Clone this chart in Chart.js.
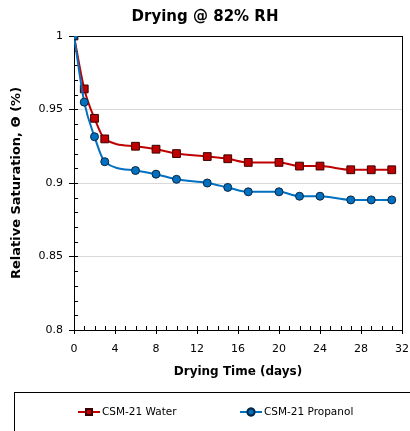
<!DOCTYPE html>
<html>
<head>
<meta charset="utf-8">
<script src="https://cdn.jsdelivr.net/npm/chart.js@4.4.1/dist/chart.umd.min.js"></script>
<style>
  body { margin: 0; background: #fff; }
</style>
</head>
<body>
<canvas id="dryingChart" width="410" height="431"></canvas>
<script>
// values
const days = [0, 1, 2, 3, 6, 8, 10, 13, 15, 17, 20, 22, 24, 27, 29, 31];
const waterSat = [1.0, 0.964, 0.944, 0.930, 0.925, 0.923, 0.920, 0.918, 0.9165, 0.914, 0.914, 0.9115, 0.9115, 0.909, 0.909, 0.909];
const propanolSat = [1.0, 0.955, 0.9315, 0.9145, 0.9085, 0.906, 0.9025, 0.900, 0.897, 0.894, 0.894, 0.891, 0.891, 0.8885, 0.8885, 0.8885];
const seriesNames = ['CSM-21 Water', 'CSM-21 Propanol'];

Chart.defaults.font.family = 'DejaVu Sans';
Chart.defaults.color = '#000';

const toPoints = (xs, ys) => xs.map((x, i) => ({ x: x, y: ys[i] }));

// frame + excel style tick marks (major crosses axis, minor inside)
const frameTicks = {
    id: 'frameTicks',
    beforeDatasetsDraw(chart) {
        const { ctx, chartArea: a, scales: { x, y } } = chart;
        ctx.save();
        ctx.strokeStyle = '#000';
        ctx.lineWidth = 1;
        ctx.beginPath();
        for (let d = 0; d <= 32; d++) {
            const px = Math.round(x.getPixelForValue(d)) + 0.5;
            const major = d % 4 === 0;
            ctx.moveTo(px, a.bottom - 4);
            ctx.lineTo(px, major ? a.bottom + 4 : a.bottom);
        }
        for (let k = 0; k <= 20; k++) {
            const py = Math.round(y.getPixelForValue(0.8 + k * 0.01)) + 0.5;
            const major = k % 5 === 0;
            ctx.moveTo(major ? a.left - 5 : a.left, py);
            ctx.lineTo(a.left + 4, py);
        }
        ctx.stroke();
        ctx.strokeRect(Math.round(a.left) + 0.5, Math.round(a.top) + 0.5,
            Math.round(a.right - a.left), Math.round(a.bottom - a.top));
        ctx.restore();
    }
};

// boxed legend below the axis, line + marker swatches
const boxLegend = {
    id: 'boxLegend',
    afterDraw(chart) {
        const { ctx } = chart;
        const slots = [78, 240];
        const ly = 412;
        ctx.save();
        ctx.strokeStyle = '#000';
        ctx.lineWidth = 1;
        ctx.strokeRect(14.5, 392.5, 420, 60);
        ctx.font = '10.5px "DejaVu Sans"';
        ctx.textBaseline = 'middle';
        chart.data.datasets.forEach((ds, i) => {
            const x0 = slots[i];
            ctx.strokeStyle = ds.borderColor;
            ctx.lineWidth = 2;
            ctx.beginPath();
            ctx.moveTo(x0, ly);
            ctx.lineTo(x0 + 22, ly);
            ctx.stroke();
            Chart.helpers.drawPoint(ctx, {
                pointStyle: ds.pointStyle,
                radius: ds.pointStyle === 'rect' ? 4.2 : 3.5,
                borderWidth: 1
            }, x0 + 11, ly);
            ctx.fillStyle = ds.pointBackgroundColor;
            ctx.strokeStyle = ds.pointBorderColor;
            ctx.fill();
            ctx.stroke();
            ctx.fillStyle = '#000';
            ctx.fillText(ds.label, x0 + 24, ly);
        });
        ctx.restore();
    }
};

new Chart(document.getElementById('dryingChart'), {
    type: 'line',
    data: {
        datasets: [{
            label: seriesNames[0],
            data: toPoints(days, waterSat),
            borderColor: '#c00000',
            borderWidth: 2,
            pointStyle: 'rect',
            pointRadius: 5.5,
            pointBackgroundColor: '#c00000',
            pointBorderColor: '#3a0000',
            pointBorderWidth: 1,
            cubicInterpolationMode: 'monotone',
            order: 2
        }, {
            label: seriesNames[1],
            data: toPoints(days, propanolSat),
            borderColor: '#0070c0',
            borderWidth: 2,
            pointStyle: 'circle',
            pointRadius: 4,
            pointBackgroundColor: '#0070c0',
            pointBorderColor: '#0a2540',
            pointBorderWidth: 1,
            cubicInterpolationMode: 'monotone',
            order: 1
        }]
    },
    options: {
        responsive: false,
        animation: false,
        layout: { padding: { left: 0, right: 0, top: 0, bottom: 46 } },
        plugins: {
            legend: { display: false },
            tooltip: { enabled: false },
            title: {
                display: true,
                text: 'Drying @ 82% RH',
                font: { size: 15, weight: 'bold' },
                padding: { top: 8, bottom: 10 }
            }
        },
        scales: {
            x: {
                type: 'linear',
                min: 0,
                max: 32,
                afterFit: s => { s.height = 55; s.paddingRight = 8; s.paddingLeft = 0; },
                grid: { display: false, drawTicks: false },
                border: { display: false },
                ticks: { stepSize: 4, padding: 13, font: { size: 11 } },
                title: {
                    display: true,
                    text: 'Drying Time (days)',
                    font: { size: 12, weight: 'bold' },
                    padding: { top: 0, bottom: 6 }
                }
            },
            y: {
                min: 0.8,
                max: 1,
                afterFit: s => { s.width = 74; },
                grid: {
                    drawTicks: false,
                    color: c => (c.tick && (c.tick.value <= 0.8001 || c.tick.value >= 0.9999)) ? 'rgba(0,0,0,0)' : '#d9d9d9'
                },
                border: { display: false },
                ticks: {
                    stepSize: 0.05,
                    padding: 11,
                    font: { size: 11 },
                    callback: v => String(+v.toFixed(2))
                },
                title: {
                    display: true,
                    text: 'Relative Saturation, Θ (%)',
                    font: { size: 13, weight: 'bold' },
                    padding: { top: 9, bottom: 0 }
                }
            }
        }
    },
    plugins: [frameTicks, boxLegend]
});
</script>
</body>
</html>
